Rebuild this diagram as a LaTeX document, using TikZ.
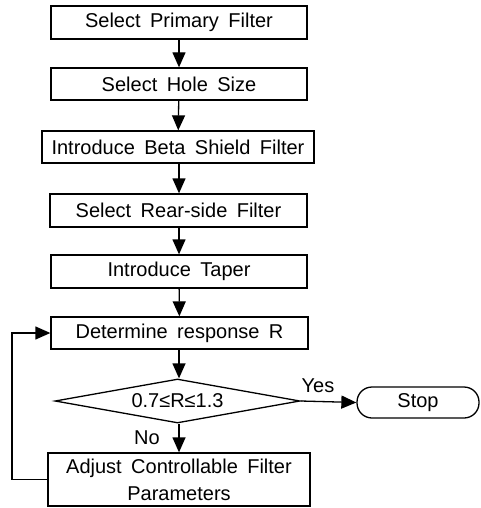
\documentclass[tikz,border=0pt]{standalone}
\usepackage{fontspec}
\setmainfont{Liberation Sans}[WordSpace=1.7]
\usetikzlibrary{arrows.meta,shapes.geometric}
\begin{document}
\begin{tikzpicture}[x=1pt,y=-1pt,
  every node/.style={font=\fontsize{20}{27}\selectfont},
  box/.style={draw,line width=1.3pt,inner sep=0pt,minimum height=33pt,align=center},
  dec/.style={draw,line width=1.3pt,shape=diamond,inner sep=0pt,aspect=5.5,minimum width=245pt,minimum height=44pt},
  term/.style={draw,line width=1.3pt,rounded corners=15pt,inner sep=0pt,minimum width=122pt,minimum height=31pt},
  lbl/.style={inner sep=0pt},
  flow/.style={line width=1.3pt,-{Triangle[length=15pt,width=13pt]}}]
\useasboundingbox (0,0) rectangle (481,508);
\node[box,minimum width=256pt] (b1) at (179,22.5) {Select Primary Filter};
\node[box,minimum width=256pt,minimum height=32pt] (b2) at (179,84) {Select Hole Size};
\node[box,minimum width=272pt,minimum height=32pt] (b3) at (178,147) {Introduce Beta Shield Filter};
\node[box,minimum width=257pt] (b4) at (178.5,210.5) {Select Rear-side Filter};
\node[box,minimum width=256pt] (b5) at (179,271.5) {Introduce Taper};
\node[box,minimum width=257pt,minimum height=32pt] (b6) at (179.5,333) {Determine response R};
\node[dec] (d) at (177.5,401) {0.7≤R≤1.3};
\node[term] (s) at (418,402.5) {Stop};
\node[box,minimum width=262pt,minimum height=53pt] (b7) at (179,479.5) {Adjust Controllable Filter\\Parameters};
\node[lbl] (yes) at (318,386) {Yes};
\node[lbl] (no) at (147,438) {No};
\coordinate (c1) at (12,479.5);
\coordinate (c2) at (12,333);
\draw[flow] (b1.south -| 179,0) -- (b2.north -| 179,0);
\draw[flow] (b2) -- (b3);
\draw[flow] (b3.south -| 179,0) -- (b4.north -| 179,0);
\draw[flow] (b4.south -| 179,0) -- (b5.north -| 179,0);
\draw[flow] (b5) -- (b6);
\draw[flow] (b6.south -| 179,0) -- (d.north -| 179,0);
\draw[flow] (d.east) -- (s.west);
\draw[flow] (d.south -| 179,0) -- (b7.north -| 179,0);
\draw[flow] (b7.west) -- (c1) -- (c2) -- (b6.west);
\end{tikzpicture}
\end{document}
